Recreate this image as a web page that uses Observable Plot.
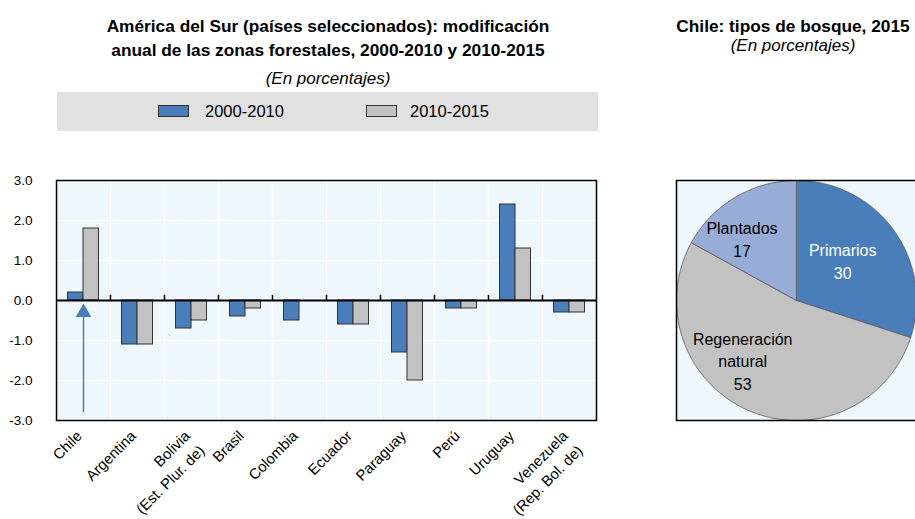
<!DOCTYPE html>
<html><head><meta charset="utf-8">
<script src="https://cdn.jsdelivr.net/npm/d3@7"></script>
<script src="https://cdn.jsdelivr.net/npm/@observablehq/plot@0.6"></script>
<style>
html,body{margin:0;padding:0}
body{width:915px;height:519px;overflow:hidden;background:#fff;font-family:"Liberation Sans",Arial,sans-serif;position:relative;color:#000}
.abs{position:absolute}
.title{font-weight:bold;font-size:17.3px;text-align:center;line-height:24px;white-space:nowrap}
.sub{font-style:italic;font-size:17px;text-align:center;line-height:23px;white-space:nowrap}
.legend{background:#e1e1e1}
.sw{position:absolute;top:13px;width:31px;height:12px;border:1px solid #333;box-sizing:border-box}
.lt{position:absolute;top:9px;font-size:16.5px;line-height:20px}
svg{overflow:visible;max-width:none!important}
</style></head><body>
<div class="abs title" style="left:58px;width:540px;top:14px">América del Sur (países seleccionados): modificación<br>anual de las zonas forestales, 2000-2010 y 2010-2015</div>
<div class="abs sub" style="left:58px;width:540px;top:67px">(En porcentajes)</div>
<div class="abs legend" id="legend" style="left:57px;top:92px;width:541px;height:39px"></div>
<div class="abs title" style="left:668px;width:250px;top:14px">Chile: tipos de bosque, 2015</div>
<div class="abs sub" style="left:668px;width:250px;top:34px">(En porcentajes)</div>
<div class="abs" id="bars" style="left:0;top:170px;width:600px"></div>
<div class="abs" id="pie" style="left:675px;top:179px;width:260px"></div>
<script>
// ---- data ----
const countries = ["Chile","Argentina","Bolivia\n(Est. Plur. de)","Brasil","Colombia","Ecuador","Paraguay","Perú","Uruguay","Venezuela\n(Rep. Bol. de)"];
const seriesNames = ["2000-2010","2010-2015"];
const values2000_2010 = [0.2,-1.1,-0.7,-0.4,-0.5,-0.6,-1.3,-0.2,2.4,-0.3];
const values2010_2015 = [1.8,-1.1,-0.5,-0.2,0,-0.6,-2.0,-0.2,1.3,-0.3];
const yTicks = [-3,-2,-1,0,1,2,3];
const arrowCountry = ["Chile"];
const arrowFrom = [-2.8];
const arrowTo = [-0.3];
const pieLabels = ["Primarios","Regeneración\nnatural","Plantados"];
const pieValues = [30,53,17];

// ---- styles ----
const blue = "#4a7ebb", gray = "#c2c2c2", lightBlue = "#98acd8", bg = "#eef7fb";
const seriesColors = [blue, gray];
const pieColors = [blue, gray, lightBlue];
const pieTextColors = ["#fff","#000","#000"];
const pieLabelRadius = [0.51,0.67,0.69];
const pieLabelShift = [-5,18.6,-10.6]; // degrees from slice mid-angle
const font = '"Liberation Sans",Arial,sans-serif';

// legend
const legend = document.getElementById("legend");
const swX = [101,309], txX = [148,353];
seriesNames.forEach((s,i)=>{
  const sw = document.createElement("div"); sw.className="sw"; sw.style.left=swX[i]+"px"; sw.style.background=seriesColors[i]; legend.appendChild(sw);
  const t = document.createElement("div"); t.className="lt"; t.style.left=txX[i]+"px"; t.textContent=s; legend.appendChild(t);
});

const d1 = countries.map((c,i)=>({country:c, value:values2000_2010[i]}));
const d2 = countries.map((c,i)=>({country:c, value:values2010_2015[i]}));
const arrowData = arrowCountry.map((c,i)=>({country:c, y1:arrowFrom[i], y2:arrowTo[i]}));

const bars = Plot.plot({
  width: 600, height: 349,
  marginLeft: 56, marginRight: 4, marginTop: 10, marginBottom: 99,
  x: {domain: countries, padding: 0, axis: null},
  y: {domain: [-3,3], ticks: yTicks, tickFormat: d=>d.toFixed(1), tickSize: 0, tickPadding: 24, label: null},
  style: {fontFamily: font, fontSize: "13.5px", color: "#000", background: "transparent", overflow: "visible"},
  marks: [
    Plot.frame({fill: bg}),
    Plot.gridY(yTicks, {stroke: "#fff", strokeOpacity: 1, strokeWidth: 1.5}),
    Plot.ruleX(countries.slice(1), {dx: -27, stroke: "#fff", strokeWidth: 1.5}),
    Plot.barY(d1, {x: "country", y: "value", insetLeft: 11.5, insetRight: 27, fill: seriesColors[0], stroke: "#333", strokeWidth: 1}),
    Plot.barY(d2, {x: "country", y: "value", insetLeft: 27, insetRight: 11.5, fill: seriesColors[1], stroke: "#333", strokeWidth: 1}),
    Plot.ruleY([0], {stroke: "#000", strokeWidth: 2}),
    Plot.ruleX(countries.slice(1), {y1: 0, y2: 0.13, dx: -27, stroke: "#000", strokeWidth: 1.5}),
    Plot.ruleX(arrowData, {x: "country", y1: "y1", y2: "y2", stroke: blue, strokeWidth: 1.5}),
    Plot.dot(arrowData, {x: "country", y: "y2", symbol: "triangle", r: 5.8, fill: blue, stroke: "none"}),
    Plot.frame({stroke: "#000", strokeWidth: 1.5}),
    Plot.text(countries, {x: d=>d, frameAnchor: "bottom", dx: -11, dy: 6, rotate: -45, textAnchor: "end", lineAnchor: "top", lineHeight: 1.4, fontSize: 14.8, fill: "#000"})
  ]
});
document.getElementById("bars").appendChild(bars);

// pie
const arcs = d3.pie().sort(null).value(d=>d)(pieValues);
const piePts = [];
arcs.forEach((a,i)=>{
  piePts.push({k:i, x:0, y:0});
  const n = Math.ceil((a.endAngle-a.startAngle)/0.01);
  for (let j=0;j<=n;j++){ const t=a.startAngle+(a.endAngle-a.startAngle)*j/n; piePts.push({k:i, x:Math.sin(t), y:Math.cos(t)}); }
  piePts.push({k:i, x:0, y:0});
});
const pieText = arcs.map((a,i)=>{
  const t = (a.startAngle+a.endAngle)/2 + pieLabelShift[i]*Math.PI/180;
  return {label: pieLabels[i]+"\n"+pieValues[i], x: pieLabelRadius[i]*Math.sin(t), y: pieLabelRadius[i]*Math.cos(t), c: pieTextColors[i]};
});
const pie = Plot.plot({
  width: 260, height: 242,
  marginLeft: 1, marginRight: 0, marginTop: 1, marginBottom: 1,
  x: {domain: [-1, 139/120], axis: null},
  y: {domain: [-1, 1], axis: null},
  color: {type: "identity"},
  style: {fontFamily: font, fontSize: "16px", background: "transparent", overflow: "visible"},
  marks: [
    Plot.frame({fill: bg}),
    Plot.line(piePts, {x: "x", y: "y", z: "k", fill: d=>pieColors[d.k], stroke: "#555", strokeWidth: 0.8}),
    Plot.text(pieText, {x: "x", y: "y", text: "label", fill: "c", lineHeight: 1.4, fontSize: 16}),
    Plot.frame({stroke: "#000", strokeWidth: 1.5})
  ]
});
document.getElementById("pie").appendChild(pie);
</script>
</body></html>
